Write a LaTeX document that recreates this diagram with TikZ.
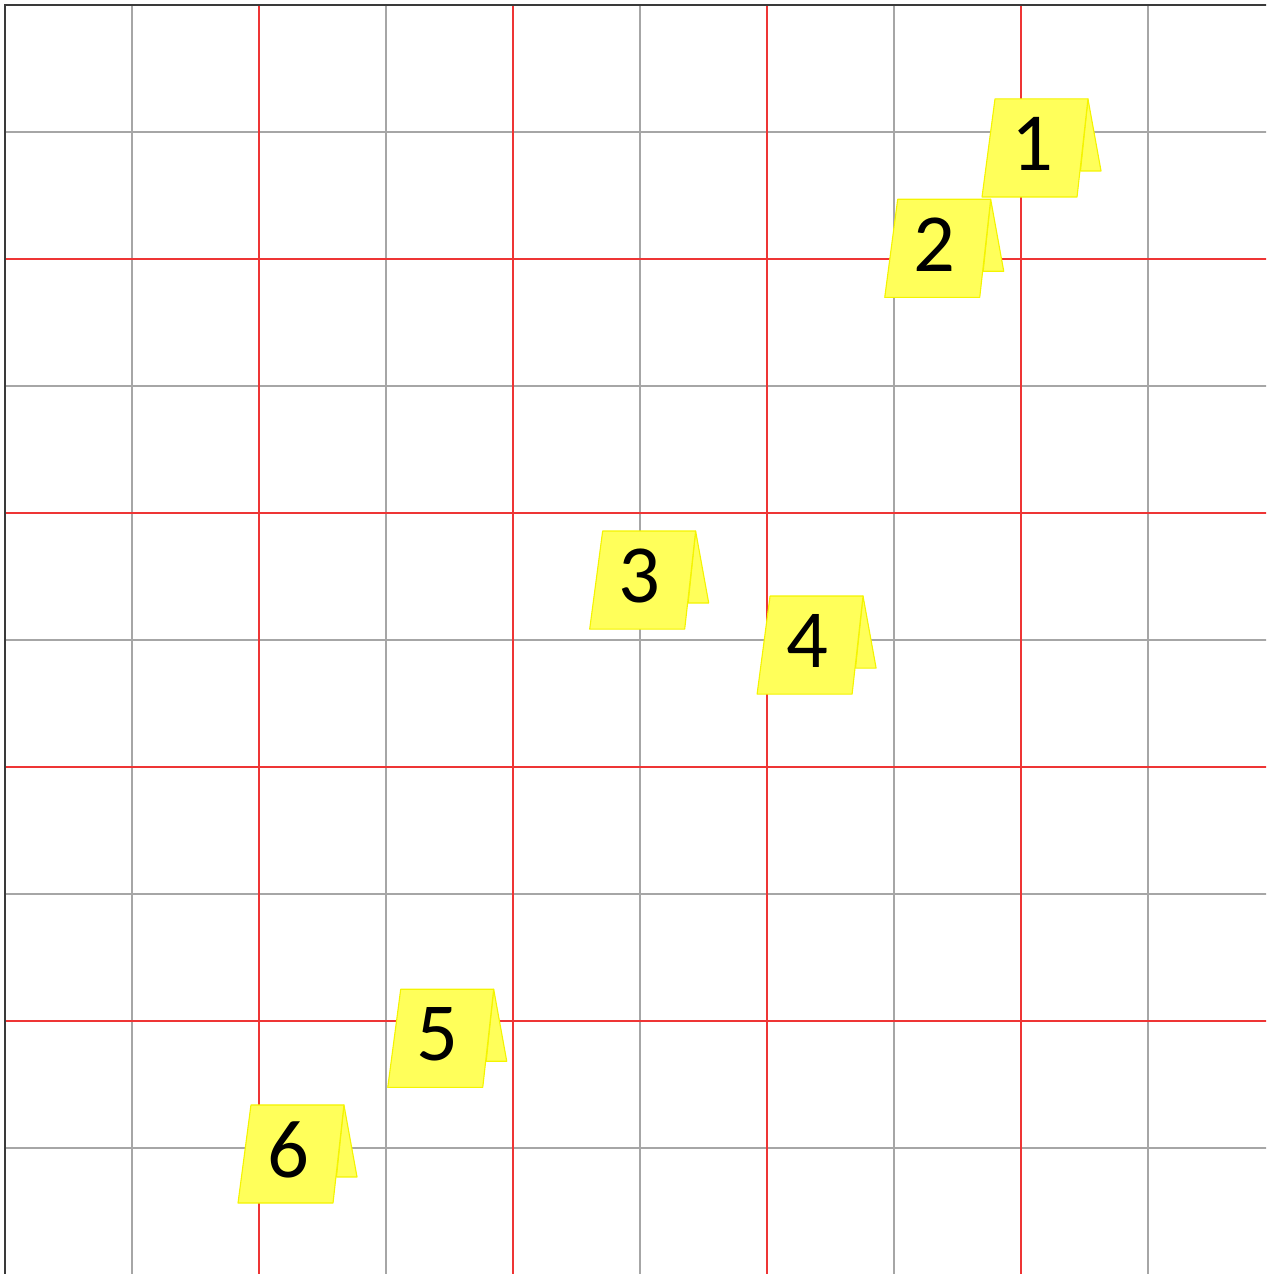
\documentclass[tikz,border=0pt]{standalone}
\usepackage{fontspec}
\setmainfont{Carlito}
\usetikzlibrary{calc}
\definecolor{gridgray}{HTML}{A6A6A6}
\definecolor{gridred}{HTML}{EE3535}
\definecolor{gridedge}{HTML}{3A3A3A}
\definecolor{tagfill}{HTML}{FFFF5A}
\definecolor{tagedge}{HTML}{F4F400}

\begin{document}
\begin{tikzpicture}[
  x=1cm,y=-1cm,
  minor/.style={draw=gridgray,line width=0.28pt},
  major/.style={draw=gridred,line width=0.36pt},
  edge/.style={draw=gridedge,line width=0.4pt},
  tag/.style={fill=tagfill,draw=tagedge,line width=0.25pt,line join=round},
  num/.style={font=\fontsize{18.5}{22}\selectfont,inner sep=0pt}
]
\clip (-0.039,-0.039) rectangle (9.929,9.992);
% grid
\foreach \k in {1,3,...,9}{
  \draw[minor] (\k,0) -- (\k,10);
  \draw[minor] (0,\k) -- (10,\k);
}
\foreach \k in {2,4,...,8}{
  \draw[major] (\k,0) -- (\k,10);
  \draw[major] (0,\k) -- (10,\k);
}
\draw[edge] (0,10) -- (0,0) -- (10,0);
% markers
\foreach \n/\x/\y in {1/7.795/0.740,2/7.029/1.530,3/4.706/4.142,4/6.024/4.654,5/3.116/7.750,6/1.937/8.661}{
  \begin{scope}[shift={(\x,\y)}]
    \path[tag] (0.732,0) -- (0.835,0.567) -- (0.673,0.567) -- cycle;
    \path[tag] (0,0) -- (0.732,0) -- (0.646,0.772) -- (-0.102,0.772) -- cycle;
    \node[num] (tag\n) at (0.291,0.354) {\n};
  \end{scope}
}
\end{tikzpicture}
\end{document}
